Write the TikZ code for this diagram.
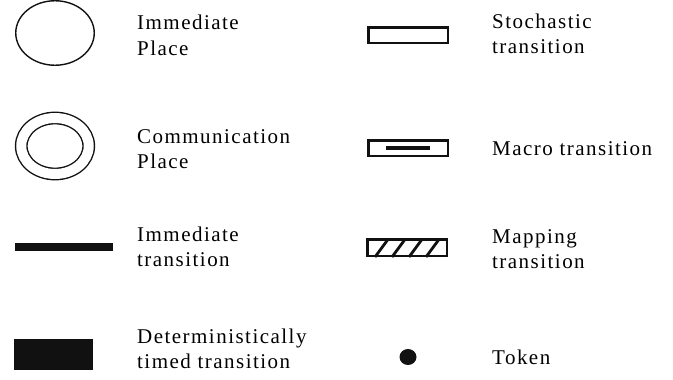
\documentclass[tikz,border=0pt]{standalone}
\usepackage{fontspec}
\setmainfont{Liberation Serif}[LetterSpace=7]
\usepackage{tikz}
\usetikzlibrary{shapes.geometric}
\definecolor{NetInk}{HTML}{111111}

\begin{document}
\begin{tikzpicture}[x=1pt,y=-1pt,
    place/.style={ellipse,draw=NetInk,line width=1.4pt,inner sep=0pt},
    transbox/.style={rectangle,draw=NetInk,line width=2.5pt,inner sep=0pt,
      minimum width=79.5pt,minimum height=15.5pt},
    solidbar/.style={rectangle,fill=NetInk,inner sep=0pt},
    legendtext/.style={anchor=base west,align=left,inner sep=0pt,
      font=\fontsize{21}{25}\selectfont}]
  \useasboundingbox (0,0) rectangle (673,380);
  % left column
  \node[place,minimum width=78.5pt,minimum height=64.5pt] (ip) at (55,33) {};
  \node[legendtext] (iptext) at (137,55) {Immediate\\Place};
  \node[place,double,double distance=10pt,minimum width=67.5pt,minimum height=56pt] (cp) at (55,146) {};
  \node[legendtext] (cptext) at (137,168) {Communication\\Place};
  \node[solidbar,minimum width=98pt,minimum height=8pt] (it) at (64,247) {};
  \node[legendtext] (ittext) at (137,266) {Immediate\\transition};
  \node[solidbar,minimum width=79pt,minimum height=31pt] (dt) at (53.5,354.5) {};
  \node[legendtext] (dttext) at (137,368) {Deterministically\\timed transition};
  % right column
  \node[transbox] (st) at (408,35) {};
  \node[legendtext] (sttext) at (492,53) {Stochastic\\transition};
  \node[transbox] (mt) at (408,148) {};
  \node[solidbar,minimum width=44pt,minimum height=4pt] (mtbar) at (408,148) {};
  \node[legendtext] (mttext) at (492,155) {Macro transition};
  \node[transbox,minimum height=16.5pt] (mp) at (407,247.5) {};
  \begin{scope}
    \clip (mp.south west) rectangle (mp.north east);
    \foreach \x in {375,392,409,426}
      \draw[NetInk,line width=2.8pt] (\x,257) -- ++(14,-19);
  \end{scope}
  \node[transbox,minimum height=16.5pt] at (407,247.5) {};
  \node[legendtext] (mptext) at (492,268) {Mapping\\transition};
  \node[ellipse,fill=NetInk,inner sep=0pt,minimum width=17pt,minimum height=16pt] (tok) at (408,357) {};
  \node[legendtext] (toktext) at (492,364) {Token};
\end{tikzpicture}
\end{document}
